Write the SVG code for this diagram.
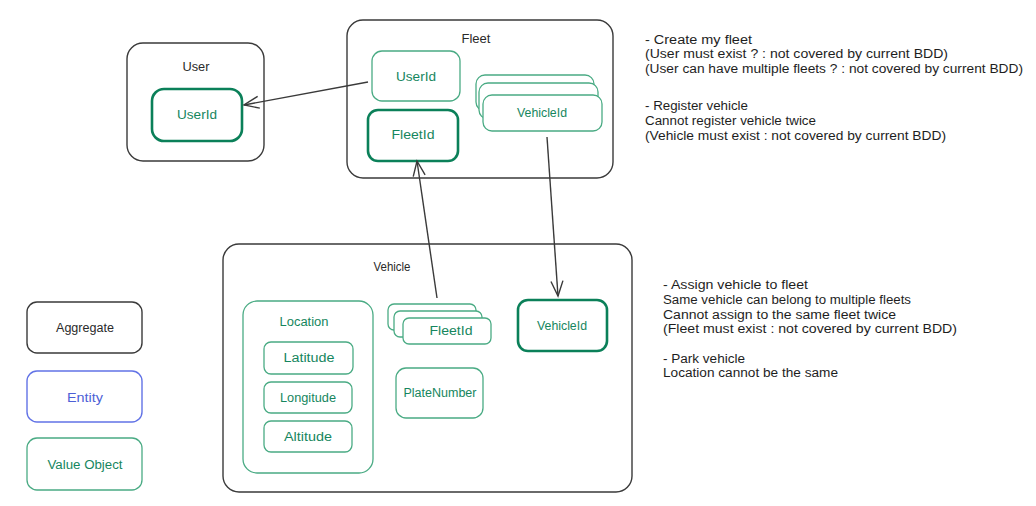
<svg xmlns="http://www.w3.org/2000/svg" width="1036" height="506" viewBox="0 0 1036 506">
<defs>
<style>
.agg{fill:none;stroke:#3a3a3a;stroke-width:1.4}
.vo{fill:#fff;stroke:#4aab84;stroke-width:1.3}
.vot{fill:#fff;stroke:#0b8059;stroke-width:2.6}
.ent{fill:none;stroke:#6273e6;stroke-width:1.4}
.t{font-family:"Liberation Sans",Arial,sans-serif;font-size:12.5px;text-anchor:middle}
.tk{fill:#2a2a2a}
.tg{fill:#16865e}
.tb{fill:#4d5fd6}
.note{font-family:"Liberation Sans",Arial,sans-serif;font-size:12px;fill:#1e1e1e}
.conn{fill:none;stroke:#3a3a3a;stroke-width:1.4}
</style>
<marker id="arr" viewBox="-17 -8 19 16" refX="0" refY="0" markerWidth="19" markerHeight="16" markerUnits="userSpaceOnUse" orient="auto">
<path d="M-15,-6 L0,0 L-15,6" fill="none" stroke="#3a3a3a" stroke-width="1.4"/>
</marker>
</defs>
<rect width="1036" height="506" fill="#fff"/>

<g id="user">
<rect class="agg" x="127" y="43" width="137" height="118" rx="16"/>
<text class="t tk" x="196" y="71" textLength="27" lengthAdjust="spacingAndGlyphs">User</text>
<g id="user-userid">
<rect class="vot" x="152" y="89" width="90" height="52" rx="12"/>
<text class="t tg" x="197" y="119" textLength="40" lengthAdjust="spacingAndGlyphs">UserId</text>
</g>
</g>

<g id="fleet">
<rect class="agg" x="347" y="20" width="266" height="158" rx="16"/>
<text class="t tk" x="476" y="43" textLength="29" lengthAdjust="spacingAndGlyphs">Fleet</text>
<g id="fleet-userid">
<rect class="vo" x="372" y="51" width="88" height="50" rx="10"/>
<text class="t tg" x="416" y="81" textLength="40" lengthAdjust="spacingAndGlyphs">UserId</text>
</g>
<g id="fleet-fleetid">
<rect class="vot" x="368" y="110" width="90" height="51" rx="10"/>
<text class="t tg" x="413" y="139" textLength="43" lengthAdjust="spacingAndGlyphs">FleetId</text>
</g>
<g id="fleet-vehicleids">
<rect class="vo" x="476" y="75" width="118" height="36" rx="9"/>
<rect class="vo" x="479" y="83" width="119" height="36" rx="9"/>
<rect class="vo" x="483" y="95" width="119" height="36" rx="9"/>
<text class="t tg" x="542" y="117" textLength="50" lengthAdjust="spacingAndGlyphs">VehicleId</text>
</g>
</g>

<g id="vehicle">
<rect class="agg" x="223" y="244" width="409" height="248" rx="16"/>
<text class="t tk" x="392" y="271" textLength="37" lengthAdjust="spacingAndGlyphs">Vehicle</text>
<g id="location">
<rect class="vo" x="243" y="301" width="130" height="172" rx="14"/>
<text class="t tg" x="304" y="326" textLength="49" lengthAdjust="spacingAndGlyphs">Location</text>
<g id="latitude">
<rect class="vo" x="264" y="342" width="89" height="32" rx="7"/>
<text class="t tg" x="309" y="362" textLength="51" lengthAdjust="spacingAndGlyphs">Latitude</text>
</g>
<g id="longitude">
<rect class="vo" x="264" y="382" width="88" height="31" rx="7"/>
<text class="t tg" x="308" y="402" textLength="56" lengthAdjust="spacingAndGlyphs">Longitude</text>
</g>
<g id="altitude">
<rect class="vo" x="264" y="421" width="88" height="31" rx="7"/>
<text class="t tg" x="308" y="441" textLength="48" lengthAdjust="spacingAndGlyphs">Altitude</text>
</g>
</g>
<g id="vehicle-fleetids">
<rect class="vo" x="388" y="304" width="88" height="26" rx="6"/>
<rect class="vo" x="394" y="311" width="88" height="26" rx="6"/>
<rect class="vo" x="403" y="318" width="88" height="26" rx="6"/>
<text class="t tg" x="451" y="335" textLength="43" lengthAdjust="spacingAndGlyphs">FleetId</text>
</g>
<g id="platenumber">
<rect class="vo" x="396" y="368" width="87" height="50" rx="10"/>
<text class="t tg" x="440" y="397" textLength="73" lengthAdjust="spacingAndGlyphs">PlateNumber</text>
</g>
<g id="vehicle-vehicleid">
<rect class="vot" x="518" y="300" width="89" height="51" rx="10"/>
<text class="t tg" x="562" y="330" textLength="50" lengthAdjust="spacingAndGlyphs">VehicleId</text>
</g>
</g>

<g id="connectors">
<line class="conn" x1="368" y1="82" x2="244" y2="105" marker-end="url(#arr)"/>
<line class="conn" x1="437" y1="298" x2="417" y2="161" marker-end="url(#arr)"/>
<line class="conn" x1="547" y1="137" x2="558" y2="296" marker-end="url(#arr)"/>
</g>

<g id="legend-aggregate">
<rect class="agg" x="27" y="302" width="115" height="51" rx="10"/>
<text class="t tk" x="85" y="332" textLength="58" lengthAdjust="spacingAndGlyphs">Aggregate</text>
</g>
<g id="legend-entity">
<rect class="ent" x="27" y="371" width="115" height="51" rx="10"/>
<text class="t tb" x="85" y="402" textLength="36" lengthAdjust="spacingAndGlyphs">Entity</text>
</g>
<g id="legend-valueobject">
<rect class="vo" x="27" y="438" width="115" height="52" rx="10"/>
<text class="t tg" x="85" y="469" textLength="75" lengthAdjust="spacingAndGlyphs">Value Object</text>
</g>

<g id="notes-fleet">
<text class="note" x="645" y="44" textLength="107" lengthAdjust="spacingAndGlyphs">- Create my fleet</text>
<text class="note" x="645" y="58" textLength="303" lengthAdjust="spacingAndGlyphs">(User must exist ? : not covered by current BDD)</text>
<text class="note" x="645" y="73" textLength="378" lengthAdjust="spacingAndGlyphs">(User can have multiple fleets ? : not covered by current BDD)</text>
<text class="note" x="645" y="110" textLength="103" lengthAdjust="spacingAndGlyphs">- Register vehicle</text>
<text class="note" x="645" y="125" textLength="171" lengthAdjust="spacingAndGlyphs">Cannot register vehicle twice</text>
<text class="note" x="645" y="140" textLength="301" lengthAdjust="spacingAndGlyphs">(Vehicle must exist : not covered by current BDD)</text>
</g>
<g id="notes-vehicle">
<text class="note" x="663" y="289" textLength="145" lengthAdjust="spacingAndGlyphs">- Assign vehicle to fleet</text>
<text class="note" x="663" y="304" textLength="248" lengthAdjust="spacingAndGlyphs">Same vehicle can belong to multiple fleets</text>
<text class="note" x="663" y="318.5" textLength="233" lengthAdjust="spacingAndGlyphs">Cannot assign to the same fleet twice</text>
<text class="note" x="663" y="333" textLength="294" lengthAdjust="spacingAndGlyphs">(Fleet must exist : not covered by current BDD)</text>
<text class="note" x="663" y="362.5" textLength="82" lengthAdjust="spacingAndGlyphs">- Park vehicle</text>
<text class="note" x="663" y="377" textLength="175" lengthAdjust="spacingAndGlyphs">Location cannot be the same</text>
</g>
</svg>
